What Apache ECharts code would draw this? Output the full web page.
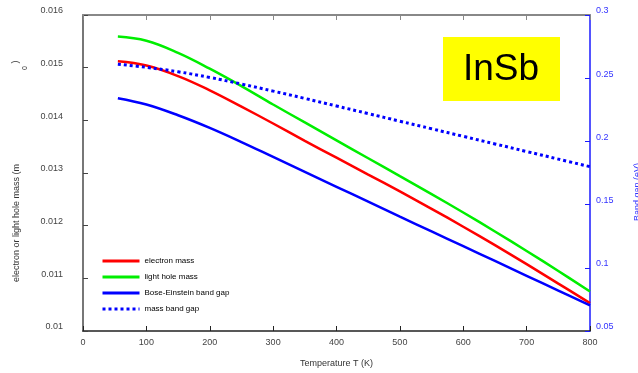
<!DOCTYPE html>
<html>
<head>
<meta charset="utf-8">
<script src="https://cdn.jsdelivr.net/npm/echarts@6/dist/echarts.min.js"></script>
<style>
  html, body { margin: 0; padding: 0; background: #fff; }
  #chart { width: 638px; height: 373px; }
</style>
</head>
<body>
<div id="chart"></div>
<script>
// Temperature samples (K)
const temps = [55, 100, 150, 200, 250, 300, 350, 400, 450, 500, 550, 600, 650, 700, 750, 800];

// effective masses (m0), left axis
const electronMass = [0.01512, 0.01504, 0.01484, 0.01457, 0.01426, 0.01394, 0.01361, 0.01329,
  0.01297, 0.01265, 0.01232, 0.01198, 0.01163, 0.01127, 0.01090, 0.01053];
const lightHoleMass = [0.01559, 0.01551, 0.01528, 0.01498, 0.01465, 0.01430, 0.01396, 0.01362,
  0.01328, 0.01294, 0.01260, 0.01225, 0.01189, 0.01152, 0.01114, 0.01075];

// band gaps (eV), right axis
const boseEinsteinGap = [0.2342, 0.2292, 0.2207, 0.2107, 0.1995, 0.1877, 0.1759, 0.1641,
  0.1523, 0.1405, 0.1288, 0.1171, 0.1054, 0.0937, 0.0820, 0.0703];
const massBandGap = [0.2611, 0.2586, 0.2551, 0.2506, 0.2454, 0.2398, 0.2340, 0.2280,
  0.2220, 0.2160, 0.2100, 0.2040, 0.1980, 0.1920, 0.1860, 0.1800];

const pairs = (ys) => temps.map((t, i) => [t, ys[i]]);

const chart = echarts.init(document.getElementById("chart"));
const font = "Liberation Sans, Arial, sans-serif";

const option = {
  animation: false,
  textStyle: { fontFamily: font },
  grid: { left: 83, right: 48, top: 15, bottom: 41 },
  legend: {
    orient: "vertical",
    left: 96,
    top: 252,
    itemWidth: 37,
    itemHeight: 10,
    itemGap: 8,
    itemStyle: { color: "rgba(0,0,0,0)", borderWidth: 0, opacity: 0 },
    lineStyle: { width: 3 },
    textStyle: { fontSize: 8, color: "#000", fontFamily: font, padding: [0, 0, 4, 0] },
    data: ["electron mass", "light hole mass", "Bose-Einstein band gap", "mass band gap"],
  },
  xAxis: [
    {
      type: "value",
      min: 0,
      max: 800,
      interval: 100,
      name: "Temperature T (K)",
      nameLocation: "middle",
      nameGap: 28,
      nameTextStyle: { fontSize: 9, color: "#333" },
      axisLine: { onZero: false, lineStyle: { color: "#222", width: 1.5 } },
      axisTick: { inside: true, length: 5, lineStyle: { color: "#222" } },
      axisLabel: { fontSize: 9, color: "#444", margin: 7 },
      splitLine: { show: false },
    },
    {
      type: "value",
      position: "top",
      min: 0,
      max: 800,
      interval: 100,
      axisLine: { show: true, onZero: false, lineStyle: { color: "#888", width: 2 } },
      axisTick: { inside: true, length: 5, lineStyle: { color: "#888" } },
      axisLabel: { show: false },
      splitLine: { show: false },
    },
  ],
  yAxis: [
    {
      type: "value",
      position: "left",
      min: 0.01,
      max: 0.016,
      interval: 0.001,
      axisLine: { show: true, onZero: false, lineStyle: { color: "#777", width: 2 } },
      axisTick: { show: true, inside: true, length: 5, lineStyle: { color: "#444" } },
      axisLabel: {
        fontSize: 9,
        color: "#444",
        margin: 20,
        verticalAlign: "bottom",
        lineHeight: 8,
        formatter: (v) => String(parseFloat(v.toFixed(3))),
      },
      splitLine: { show: false },
    },
    {
      type: "value",
      position: "right",
      min: 0.05,
      max: 0.3,
      interval: 0.05,
      axisLine: { show: true, onZero: false, lineStyle: { color: "#1a1aff", width: 1.5 } },
      axisTick: { show: true, inside: true, length: 5, lineStyle: { color: "#1a1aff" } },
      axisLabel: {
        fontSize: 9,
        color: "#3333ff",
        margin: 6,
        verticalAlign: "bottom",
        lineHeight: 8,
        formatter: (v) => String(parseFloat(v.toFixed(2))),
      },
      splitLine: { show: false },
    },
  ],
  series: [
    {
      name: "electron mass",
      type: "line",
      yAxisIndex: 0,
      smooth: 0.4,
      symbol: "none",
      lineStyle: { color: "#ff0000", width: 2.5 },
      itemStyle: { color: "#ff0000" },
      data: pairs(electronMass),
    },
    {
      name: "light hole mass",
      type: "line",
      yAxisIndex: 0,
      smooth: 0.4,
      symbol: "none",
      lineStyle: { color: "#00ee00", width: 2.5 },
      itemStyle: { color: "#00ee00" },
      data: pairs(lightHoleMass),
    },
    {
      name: "Bose-Einstein band gap",
      type: "line",
      yAxisIndex: 1,
      smooth: 0.4,
      symbol: "none",
      lineStyle: { color: "#0000ff", width: 2.5 },
      itemStyle: { color: "#0000ff" },
      data: pairs(boseEinsteinGap),
    },
    {
      name: "mass band gap",
      type: "line",
      yAxisIndex: 1,
      smooth: 0.4,
      symbol: "none",
      lineStyle: { color: "#0000ff", width: 3, type: [3, 3] },
      itemStyle: { color: "#0000ff" },
      data: pairs(massBandGap),
    },
  ],
  graphic: [
    {
      type: "rect",
      shape: { x: 443, y: 37, width: 117, height: 64 },
      style: { fill: "#ffff00" },
      z: 1,
    },
    {
      type: "text",
      x: 501,
      y: 70,
      z: 2,
      style: {
        text: "InSb",
        fontSize: 37,
        fontFamily: font,
        fill: "#000",
        align: "center",
        verticalAlign: "middle",
      },
    },
    {
      type: "text",
      x: 17,
      y: 223,
      rotation: Math.PI / 2,
      style: {
        text: "electron or light hole mass (m",
        fontSize: 9,
        fontFamily: font,
        fill: "#333",
        align: "center",
        verticalAlign: "middle",
      },
    },
    {
      type: "text",
      x: 25,
      y: 68,
      rotation: Math.PI / 2,
      style: { text: "0", fontSize: 7, fontFamily: font, fill: "#333", align: "center", verticalAlign: "middle" },
    },
    {
      type: "text",
      x: 16,
      y: 62,
      rotation: Math.PI / 2,
      style: { text: ")", fontSize: 9, fontFamily: font, fill: "#333", align: "center", verticalAlign: "middle" },
    },
    {
      type: "text",
      x: 638,
      y: 192,
      rotation: Math.PI / 2,
      style: {
        text: "Band gap (eV)",
        fontSize: 9,
        fontFamily: font,
        fill: "#3333ff",
        align: "center",
        verticalAlign: "middle",
      },
    },
  ],
};

chart.setOption(option);
</script>
</body>
</html>
